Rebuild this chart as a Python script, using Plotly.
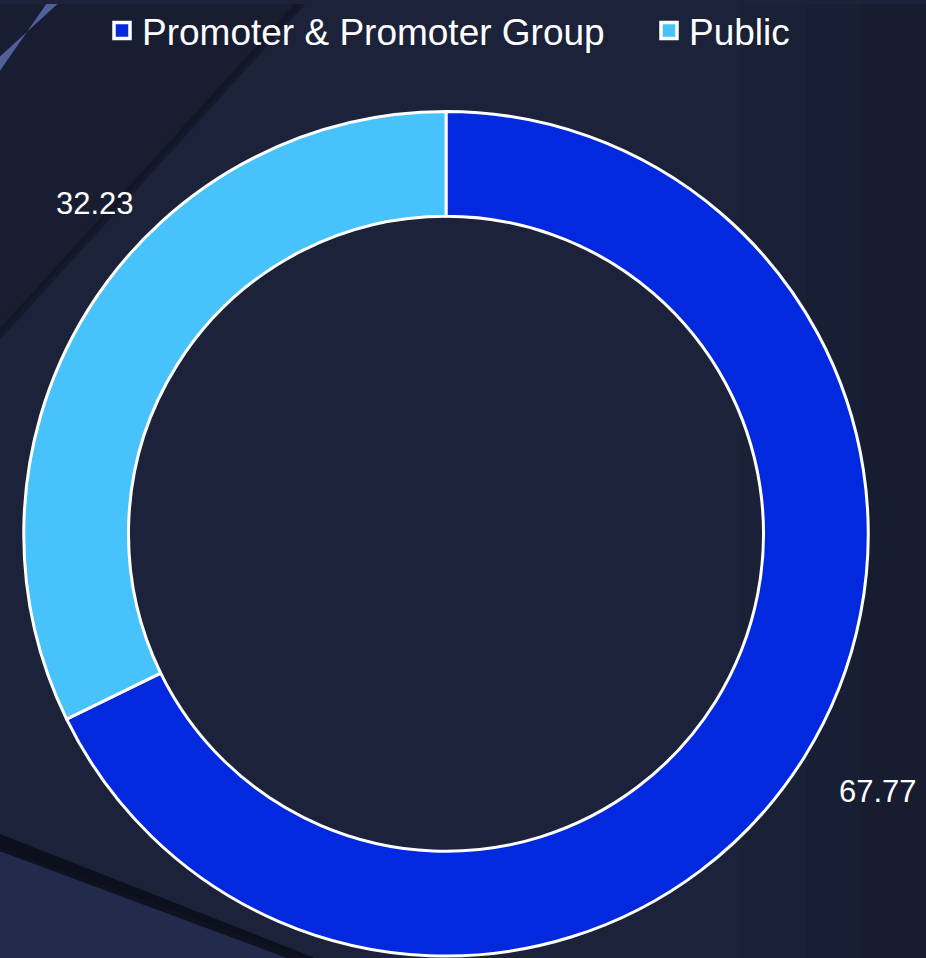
import plotly.graph_objects as go

# shareholding pattern (%)
labels = ["Promoter & Promoter Group", "Public"]
values = [67.77, 32.23]
colors = ["#0229dd", "#48c2fb"]
# where the value labels sit (paper fraction)
label_pos = [(0.948, 0.175), (0.103, 0.791)]
# left edge of each legend entry (px)
legend_x = [102, 649]

W, H = 926, 958
cx, cy, r = 446, 532, 424
FONT = "Liberation Sans, Arial, sans-serif"

fig = go.Figure()

fig.add_trace(go.Pie(
    labels=labels, values=values,
    hole=0.752, sort=False, direction="clockwise", rotation=0,
    marker=dict(colors=colors, line=dict(color="white", width=3)),
    textinfo="none", hoverinfo="label+value",
    domain=dict(x=[(cx - r) / W, (cx + r) / W],
                y=[(H - cy - r) / H, (H - cy + r) / H]),
    showlegend=False,
))

# legend entries, one legend box per category so spacing matches
legend_boxes = {}
for i, (lab, col, lx) in enumerate(zip(labels, colors, legend_x)):
    key = "legend" if i == 0 else f"legend{i + 1}"
    fig.add_trace(go.Scatter(
        x=[None], y=[None], mode="markers", name=lab, legend=key,
        marker=dict(symbol="square", size=22, color=col,
                    line=dict(color="white", width=3.5)),
    ))
    legend_boxes[key] = dict(
        orientation="h", x=lx / W, xanchor="left",
        y=1 - 27 / H, yanchor="middle",
        font=dict(family=FONT, size=37, color="white"),
        bgcolor="rgba(0,0,0,0)", borderwidth=0,
    )

for v, (lx, ly) in zip(values, label_pos):
    fig.add_annotation(x=lx, y=ly, xref="paper", yref="paper",
                       xanchor="center", yanchor="middle",
                       text=f"{v:.2f}", showarrow=False,
                       font=dict(family=FONT, size=31, color="white"))

# background streaks
bg_shapes = [
    # darker wedge left of the faint diagonal
    dict(type="path", path="M 0 0.655 L 0.325 1.0 L 0 1.0 Z",
         fillcolor="rgba(8,10,22,0.2)", line_width=0),
    dict(type="path", path="M 0 0.66 L 0 0.648 L 0.33 1.0 L 0.318 1.0 Z",
         fillcolor="rgba(5,6,15,0.3)", line_width=0),
    # thin light streak top-left
    dict(type="path", path="M 0 0.945 L 0.062 1.0 L 0.050 1.0 L 0 0.93 Z",
         fillcolor="rgba(120,140,225,0.6)", line_width=0),
    # lighter panel bottom-left
    dict(type="path", path="M 0 0.115 L 0.33 0.0 L 0 0.0 Z",
         fillcolor="#232b4c", line_width=0),
    dict(type="path", path="M 0 0.13 L 0.34 0.0 L 0.31 0.0 L 0 0.112 Z",
         fillcolor="rgba(5,8,16,0.7)", line_width=0),
    # soft darkening toward the right edge
    dict(type="rect", x0=0.80, x1=1.0, y0=0, y1=1,
         fillcolor="rgba(8,10,22,0.08)", line_width=0),
    dict(type="rect", x0=0.87, x1=1.0, y0=0, y1=1,
         fillcolor="rgba(8,10,22,0.08)", line_width=0),
    dict(type="rect", x0=0.93, x1=1.0, y0=0, y1=1,
         fillcolor="rgba(8,10,22,0.08)", line_width=0),
]

fig.update_layout(
    width=W, height=H,
    margin=dict(l=0, r=0, t=0, b=0),
    paper_bgcolor="#1c2239",
    plot_bgcolor="rgba(0,0,0,0)",
    font=dict(family=FONT, color="white"),
    xaxis=dict(visible=False), yaxis=dict(visible=False),
    shapes=[dict(s, xref="paper", yref="paper", layer="below") for s in bg_shapes],
    **legend_boxes,
)

fig.write_html("out.html", config={"displayModeBar": False},
               post_script="document.body.style.margin='0';")
